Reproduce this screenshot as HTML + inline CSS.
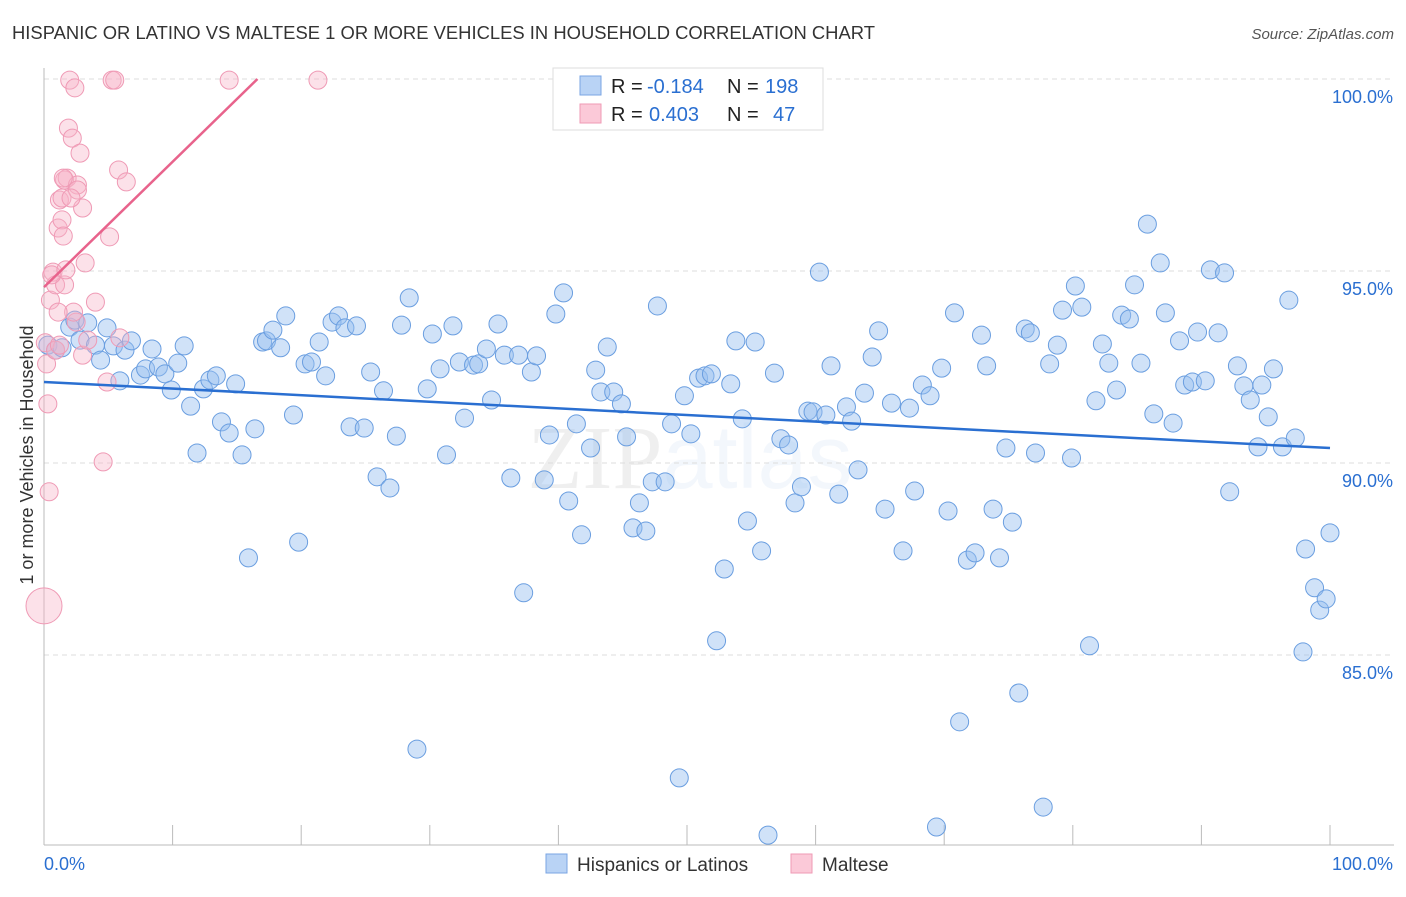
<!DOCTYPE html>
<html><head><meta charset="utf-8"><style>
body{margin:0;background:#fff;font-family:"Liberation Sans",sans-serif;}
</style></head><body>
<svg width="1406" height="892" xmlns="http://www.w3.org/2000/svg" id="svg" style="font-family:'Liberation Sans',sans-serif">
<text x="12" y="39" font-size="18" fill="#333" textLength="863" lengthAdjust="spacingAndGlyphs">HISPANIC OR LATINO VS MALTESE 1 OR MORE VEHICLES IN HOUSEHOLD CORRELATION CHART</text>
<text x="1394" y="39" font-size="15" fill="#555" text-anchor="end" font-style="italic">Source: ZipAtlas.com</text>
<text x="690" y="488" font-size="90" fill="#000" opacity="0.06" text-anchor="middle" font-family="Liberation Serif">ZIP<tspan fill="#2a6fd1" opacity="0.9" font-family="Liberation Sans">atlas</tspan></text>
<text transform="translate(33,455) rotate(-90)" font-size="18" fill="#333" text-anchor="middle">1 or more Vehicles in Household</text>
<g id="grid"></g><g id="pts"></g><g id="lines"></g>
<g>
<rect x="553" y="68" width="270" height="62" fill="#fff" stroke="#ddd"/>
<rect x="580" y="76" width="21" height="19" fill="#b9d3f5" stroke="#7aa5e3"/>
<rect x="580" y="104" width="21" height="19" fill="#fbc9d8" stroke="#ef9ab5"/>
<text x="611" y="93" font-size="20" fill="#222">R =</text>
<text x="647" y="93" font-size="20" fill="#2a6fd1">-0.184</text>
<text x="727" y="93" font-size="20" fill="#222">N =</text>
<text x="765" y="93" font-size="20" fill="#2a6fd1">198</text>
<text x="611" y="121" font-size="20" fill="#222">R =</text>
<text x="649" y="121" font-size="20" fill="#2a6fd1">0.403</text>
<text x="727" y="121" font-size="20" fill="#222">N =</text>
<text x="773" y="121" font-size="20" fill="#2a6fd1">47</text>
</g>
<g>
<rect x="546" y="854" width="21" height="19" fill="#b9d3f5" stroke="#7aa5e3"/>
<text x="577" y="871" font-size="19" fill="#333">Hispanics or Latinos</text>
<rect x="791" y="854" width="21" height="19" fill="#fbc9d8" stroke="#ef9ab5"/>
<text x="822" y="871" font-size="19" fill="#333">Maltese</text>
</g>
</svg>
<script>
const blueX=[0.3,0.9,1.4,2.0,2.4,2.8,3.4,4.0,4.4,4.9,5.4,5.9,6.3,6.8,7.5,7.9,8.4,8.9,9.4,9.9,10.4,10.9,11.4,11.9,12.4,12.9,13.4,13.8,14.4,14.9,15.4,15.9,16.4,17.0,17.3,17.8,18.4,18.8,19.4,19.8,20.3,20.8,21.4,21.9,22.4,22.9,23.4,23.8,24.3,24.9,25.4,25.9,26.4,26.9,27.4,27.8,28.4,29.0,29.8,30.2,30.8,31.3,31.8,32.3,32.7,33.4,33.8,34.4,34.8,35.3,35.8,36.3,36.9,37.3,37.9,38.3,38.9,39.3,39.8,40.4,40.8,41.4,41.8,42.5,42.9,43.3,43.8,44.3,44.9,45.3,45.8,46.3,46.8,47.3,47.7,48.3,48.8,49.4,49.8,50.3,50.9,51.4,51.9,52.3,52.9,53.4,53.8,54.3,54.7,55.3,55.8,56.3,56.8,57.3,57.9,58.4,58.9,59.4,59.8,60.3,60.8,61.2,61.8,62.4,62.8,63.3,63.8,64.4,64.9,65.4,65.9,66.8,67.3,67.7,68.3,68.9,69.4,69.8,70.3,70.8,71.2,71.8,72.4,72.9,73.3,73.8,74.3,74.8,75.3,75.8,76.3,76.7,77.1,77.7,78.2,78.8,79.2,79.9,80.2,80.7,81.3,81.8,82.3,82.8,83.4,83.8,84.4,84.8,85.3,85.8,86.3,86.8,87.2,87.8,88.3,88.7,89.3,89.7,90.3,90.7,91.3,91.8,92.2,92.8,93.3,93.8,94.4,94.7,95.2,95.6,96.3,96.8,97.3,98.1,97.9,98.8,99.2,99.7,100.0];
const blueY=[93.07,92.94,93.0,93.54,93.72,93.2,93.65,93.07,92.68,93.52,93.05,92.14,92.94,93.18,92.29,92.45,92.97,92.5,92.32,91.9,92.6,93.05,91.48,90.26,91.93,92.16,92.27,91.07,90.78,92.06,90.21,87.53,90.89,93.15,93.18,93.46,93.0,93.83,91.25,87.94,92.58,92.63,93.15,92.27,93.67,93.83,93.52,90.94,93.57,90.91,92.37,89.64,91.88,89.35,90.7,93.59,94.3,82.55,91.93,93.36,92.45,90.21,93.57,92.63,91.17,92.55,92.58,92.97,91.64,93.62,92.81,89.61,92.81,86.62,92.37,92.79,89.56,90.73,93.88,94.43,89.01,91.02,88.13,90.39,92.42,91.85,93.02,91.85,91.54,90.68,88.31,88.96,88.23,89.51,94.09,89.51,91.02,81.8,91.75,90.76,92.21,92.27,92.32,85.37,87.24,92.06,93.18,91.15,88.49,93.15,87.71,80.31,92.34,90.63,90.47,88.96,89.38,91.35,91.33,94.97,91.25,92.53,89.19,91.46,91.09,89.82,91.82,92.76,93.44,88.8,91.56,87.71,91.43,89.27,92.03,91.75,80.52,92.47,88.75,93.91,83.26,87.47,87.66,93.33,92.53,88.8,87.53,90.39,88.46,84.01,93.49,93.39,90.26,81.04,92.58,93.07,93.98,90.13,94.61,94.06,85.24,91.62,93.1,92.6,91.9,93.85,93.75,94.64,92.6,96.22,91.28,95.21,93.91,91.04,93.18,92.03,92.11,93.41,92.14,95.03,93.39,94.95,89.25,92.53,92.01,91.64,90.42,92.03,91.2,92.45,90.42,94.24,90.65,87.76,85.08,86.75,86.17,86.46,88.18];
const pinkX=[0.1,0.2,0.3,0.4,0,0.5,0.7,0.9,1.1,1.2,1.4,1.5,1.6,1.8,1.9,2.0,2.2,2.4,2.5,2.3,2.6,2.8,3.0,3.0,3.2,4.0,4.6,4.9,5.3,5.5,5.8,5.9,6.4,5.1,14.4,21.3,1.6,1.4,2.6,2.1,0.6,1.1,1.7,3.4,0.9,1.2,1.5];
const pinkY=[93.13,92.58,91.54,89.25,86.28,94.24,94.97,94.64,96.12,96.85,96.33,95.91,97.37,97.42,98.72,99.97,98.46,99.77,93.67,93.93,97.24,98.07,96.64,92.81,95.21,94.19,90.03,92.11,99.97,99.97,97.63,93.26,97.32,95.89,99.97,99.97,94.64,96.9,97.11,96.9,94.9,93.93,95.03,93.2,92.94,93.07,97.42];
const blueTrendX=[0,100], blueTrendY=[92.11,90.39];
const pinkTrendX=[0,16.6], pinkTrendY=[94.58,100];
const yTicks=[100,95,90,85];
const yTickLabels=["100.0%","95.0%","90.0%","85.0%"];
const xTicks=[0,10,20,30,40,50,60,70,80,90,100];

const X=v=>44+v*12.86, Y=v=>79+(100-v)*38.4;
const NS="http://www.w3.org/2000/svg";
function mk(tag,attrs,parent){const e=document.createElementNS(NS,tag);for(const k in attrs)e.setAttribute(k,attrs[k]);parent.appendChild(e);return e;}
const grid=document.getElementById('grid'),pts=document.getElementById('pts'),lines=document.getElementById('lines');
yTicks.forEach((t,i)=>{
 const l=mk('line',{x1:44,x2:1394,y1:Y(t),y2:Y(t),stroke:'#ddd','stroke-dasharray':'5,4'},grid);
 
 
 const tx=mk('text',{x:1393,y:Y(t)+24,'font-size':18,fill:'#2a6fd1','text-anchor':'end'},grid);
 tx.textContent=yTickLabels[i];
 
 
});
const ax=mk('line',{x1:44,x2:1394,y1:845,y2:845,stroke:'#bbb'},grid);


const ay=mk('line',{x1:44,x2:44,y1:68,y2:845,stroke:'#bbb'},grid);


xTicks.forEach(t=>{
 const l=mk('line',{x1:X(t),x2:X(t),y1:825,y2:845,stroke:'#bbb'},grid);
 
 
});
[[0,"0.0%","start",44],[100,"100.0%","end",1393]].forEach(a=>{
 const tx=mk('text',{x:a[3],y:870,'font-size':18,fill:'#2a6fd1','text-anchor':a[2]},grid);
 tx.textContent=a[1];
 
 
});
blueX.forEach((x,i)=>{
 const c=mk('circle',{cx:X(x),cy:Y(blueY[i]),r:9,fill:'rgba(150,190,240,0.45)',stroke:'#6a9ee0','stroke-width':1},pts);
 
 
});
pinkX.forEach((x,i)=>{
 const c=mk('circle',{cx:X(x),cy:Y(pinkY[i]),r:i==4?18:9,fill:'rgba(248,180,200,0.4)',stroke:'#ef9ab5','stroke-width':1},pts);
 
 
});
const bl=mk('line',{x1:X(blueTrendX[0]),y1:Y(blueTrendY[0]),x2:X(blueTrendX[1]),y2:Y(blueTrendY[1]),stroke:'#2a6fd1','stroke-width':2.5},lines);


const pl=mk('line',{x1:X(pinkTrendX[0]),y1:Y(pinkTrendY[0]),x2:X(pinkTrendX[1]),y2:Y(pinkTrendY[1]),stroke:'#e8638c','stroke-width':2.5},lines);


</script>
</body></html>
